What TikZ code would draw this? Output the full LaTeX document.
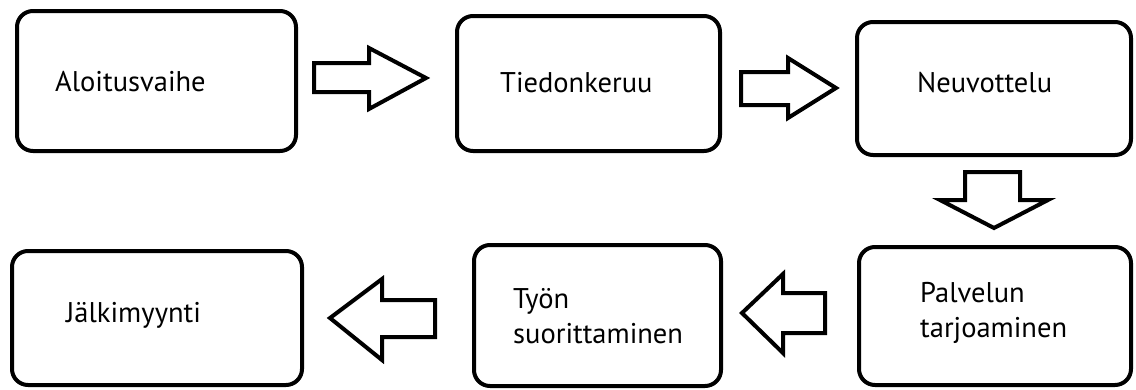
\documentclass[tikz,border=0pt]{standalone}
\usepackage{fontspec}
\setmainfont{PT Sans}
\tikzset{
  box/.style={draw=black, line width=4pt, rounded corners=16pt, fill=white},
  blockarrow/.style={draw=black, line width=4pt, fill=white, line join=miter},
  lbl/.style={anchor=base west, inner sep=0pt, align=left, font=\fontsize{28.5}{35}\selectfont}
}
\begin{document}
\begin{tikzpicture}[x=1pt,y=-1pt]
\useasboundingbox (0,0) rectangle (1136,389);
% boxes
\draw[box] (17,11) rectangle (296,151);
\coordinate (b1) at (156.5,81);
\draw[box] (457,16) rectangle (720,151);
\coordinate (b2) at (588.5,83.5);
\draw[box] (857,22) rectangle (1131,155);
\coordinate (b3) at (994,88.5);
\draw[box] (859,247) rectangle (1131,385);
\coordinate (b4) at (995,316);
\draw[box] (474,245) rectangle (721,386);
\coordinate (b5) at (597.5,315.5);
\draw[box] (12,251) rectangle (302,385);
\coordinate (b6) at (157,318);
% labels
\node[lbl] (t1) at (55,91) {Aloitusvaihe};
\node[lbl] (t2) at (500,92) {Tiedonkeruu};
\node[lbl] (t3) at (917,92) {Neuvottelu};
\node[lbl] (t4) at (920,337) {Palvelun\\tarjoaminen};
\node[lbl] (t5) at (513,343) {Työn\\suorittaminen};
\node[lbl] (t6) at (66,322) {Jälkimyynti};
% block arrows
\draw[blockarrow] (314,63) -- (369,63) -- (369,48) -- (426,78) -- (369,109) -- (369,92) -- (314,92) -- cycle;
\draw[blockarrow] (741,72) -- (788,72) -- (788,58) -- (836,88) -- (788,118) -- (788,105) -- (741,105) -- cycle;
\draw[blockarrow] (965,172) -- (1020,172) -- (1020,200) -- (1048,200) -- (994,228) -- (940,200) -- (965,200) -- cycle;
\draw[blockarrow] (825,293) -- (783,293) -- (783,274) -- (742,313) -- (783,353) -- (783,333) -- (825,333) -- cycle;
\draw[blockarrow] (435,300) -- (382,300) -- (382,279) -- (330,318) -- (382,360) -- (382,337) -- (435,337) -- cycle;
\end{tikzpicture}
\end{document}
